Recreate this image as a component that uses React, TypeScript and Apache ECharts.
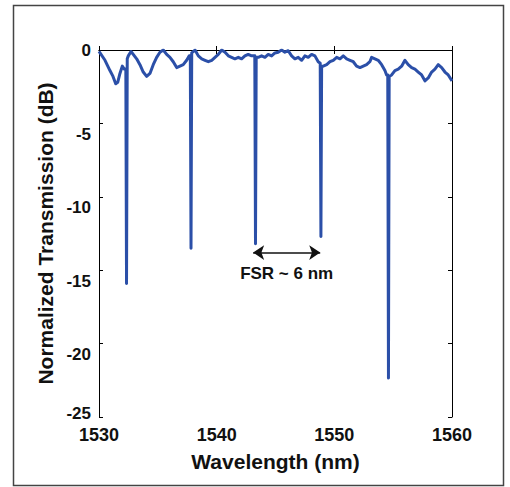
import React, { useEffect, useRef } from "react";
import * as echarts from "echarts";

// Wavelength (nm) and normalized transmission (dB)
const wavelengths: number[] = [
  1530.0, 1530.51, 1530.93, 1531.19, 1531.42, 1531.59, 1531.78, 1531.98, 1532.15,
  1532.28, 1532.34, 1532.4,
  1532.49, 1532.72, 1532.91, 1533.2, 1533.48, 1533.76, 1534.05, 1534.33, 1534.61,
  1534.9, 1535.18, 1535.46, 1535.75, 1536.03, 1536.31, 1536.6, 1536.88, 1537.16,
  1537.45, 1537.67,
  1537.76, 1537.82, 1537.88,
  1538.16, 1538.44, 1538.73, 1539.01, 1539.29, 1539.58, 1539.86, 1540.14, 1540.43,
  1540.71, 1540.99, 1541.27, 1541.55, 1541.84, 1542.12, 1542.4, 1542.68, 1542.97,
  1543.24, 1543.3, 1543.36,
  1543.53, 1543.82, 1544.1, 1544.38, 1544.67, 1544.95, 1545.23, 1545.52, 1545.8,
  1546.08, 1546.37, 1546.65, 1546.93, 1547.22, 1547.5, 1547.78, 1548.07, 1548.35,
  1548.63,
  1548.8, 1548.86, 1548.92,
  1549.06, 1549.35, 1549.63, 1549.91, 1550.2, 1550.48, 1550.76, 1551.05, 1551.33,
  1551.61, 1551.89, 1552.18, 1552.46, 1552.74, 1553.02, 1553.17, 1553.45, 1553.73,
  1554.02, 1554.3, 1554.44,
  1554.54, 1554.6, 1554.66,
  1554.87, 1555.15, 1555.43, 1555.72, 1556.0, 1556.28, 1556.57, 1556.85, 1557.13,
  1557.42, 1557.7, 1557.98, 1558.27, 1558.55, 1558.83, 1559.12, 1559.4, 1559.68,
  1560.0,
];

const transmission: number[] = [
  -0.1, -0.7, -1.4, -1.8, -2.3, -2.2, -1.6, -1.1, -1.3,
  -1.3, -15.9, -0.6,
  -0.4, -0.1, -0.3, -0.6, -1.0, -1.5, -1.8, -1.6, -1.0,
  -0.5, -0.15, 0.0, -0.3, -0.5, -0.8, -1.2, -1.1, -1.0,
  -0.7, -0.4,
  -0.4, -13.5, -0.2,
  0.0, -0.4, -0.6, -0.7, -0.8, -0.7, -0.5, -0.3, 0.0,
  -0.15, -0.4, -0.5, -0.6, -0.5, -0.6, -0.4, -0.3, -0.4,
  -0.4, -13.2, -0.5,
  -0.5, -0.4, -0.5, -0.3, -0.4, -0.2, -0.15, 0.0, -0.15,
  -0.05, -0.4, -0.6, -0.5, -0.7, -0.4, -0.5, -0.3, -0.4,
  -0.8,
  -0.9, -12.7, -1.1,
  -1.1, -1.0, -0.8, -0.7, -0.5, -0.6, -0.4, -0.6, -0.7,
  -0.8, -1.1, -1.2, -1.1, -1.0, -0.8, -0.5, -0.6, -0.7,
  -1.0, -1.4, -1.7,
  -1.7, -22.35, -1.8,
  -1.7, -1.4, -1.3, -1.1, -0.7, -1.0, -1.2, -1.3, -1.5,
  -1.7, -2.1, -1.9, -1.5, -1.3, -1.0, -1.2, -1.5, -1.7,
  -2.1,
];

const xTicks = { min: 1530, max: 1560, interval: 10 };
const yTicks = { min: -25, max: 0, interval: 5 };

// FSR annotation endpoints (wavelength, dB)
const fsrStart: number[] = [1543.1, -13.8];
const fsrEnd: number[] = [1548.8, -13.8];
const fsrLabel = "FSR ~ 6 nm";

const FONT = "'Liberation Sans', Arial, Helvetica, sans-serif";

export default function App() {
  const ref = useRef<HTMLDivElement>(null);

  useEffect(() => {
    if (!ref.current) return;
    const chart = echarts.init(ref.current, null, { renderer: "svg" });
    const data = wavelengths.map((w, i) => [w, transmission[i]]);

    const axisCommon = {
      axisLine: { show: true, lineStyle: { color: "#000", width: 1 } },
      axisTick: { show: true, inside: true, length: 4, lineStyle: { color: "#000", width: 1 } },
      splitLine: { show: false },
    };

    const labelFont = {
      fontFamily: FONT,
      fontWeight: "bold" as const,
      fontSize: 17,
      color: "#111",
    };

    chart.setOption({
      animation: false,
      backgroundColor: "#fff",
      grid: {
        left: 99,
        right: 58,
        top: 50,
        bottom: 70,
        containLabel: false,
        outerBoundsMode: "none",
        show: false,
      },
      xAxis: [
        {
          type: "value",
          ...xTicks,
          ...axisCommon,
          position: "bottom",
          name: "Wavelength (nm)",
          nameLocation: "middle",
          nameGap: 34,
          nameTextStyle: { fontFamily: FONT, fontWeight: "bold", fontSize: 21, color: "#111" },
          axisLabel: {
            fontFamily: FONT,
            fontWeight: "bold",
            fontSize: 18,
            color: "#111",
            margin: 9,
            lineHeight: 18,
            formatter: (v: number) => String(v),
            showMinLabel: true,
            showMaxLabel: true,
          },
        },
        {
          type: "value",
          ...xTicks,
          ...axisCommon,
          position: "top",
          axisLabel: { show: false },
        },
      ],
      yAxis: [
        {
          type: "value",
          ...yTicks,
          ...axisCommon,
          position: "left",
          name: "Normalized Transmission (dB)",
          nameLocation: "middle",
          nameGap: 41,
          nameTextStyle: { fontFamily: FONT, fontWeight: "bold", fontSize: 21, color: "#111" },
          axisLabel: {
            ...labelFont,
            margin: 8,
            lineHeight: 17,
            formatter: (v: number) =>
              v === 0
                ? String(v)
                : v === -25
                ? "{e|" + String(v) + "}"
                : "{m|" + String(v) + "}",
            rich: {
              m: { ...labelFont, lineHeight: 17, padding: [22, 0, 0, 0] },
              e: { ...labelFont, lineHeight: 17, padding: [0, 0, 8, 0] },
            },
          },
        },
        {
          type: "value",
          ...yTicks,
          ...axisCommon,
          position: "right",
          axisLabel: { show: false },
        },
      ],
      series: [
        {
          type: "line",
          data,
          xAxisIndex: 0,
          yAxisIndex: 0,
          showSymbol: false,
          symbol: "none",
          clip: true,
          lineStyle: { color: "#2b4fa8", width: 3, join: "round" },
          markLine: {
            silent: true,
            symbol: ["arrow", "arrow"],
            symbolSize: [11, 11],
            lineStyle: { color: "#111", width: 1.5, type: "solid" },
            label: {
              show: true,
              position: "insideMiddleBottom",
              distance: 12,
              formatter: fsrLabel,
              fontFamily: FONT,
              fontWeight: "bold",
              fontSize: 17,
              color: "#111",
            },
            data: [[{ coord: fsrStart }, { coord: fsrEnd }]],
          },
        },
      ],
      graphic: [
        {
          type: "rect",
          shape: { x: 13.5, y: 5.5, width: 490, height: 480 },
          style: { fill: "none", stroke: "#444", lineWidth: 1.5 },
          silent: true,
        },
      ],
    });

    return () => chart.dispose();
  }, []);

  return (
    <div
      ref={ref}
      style={{ position: "absolute", left: 0, top: 0, width: 510, height: 487 }}
    />
  );
}
